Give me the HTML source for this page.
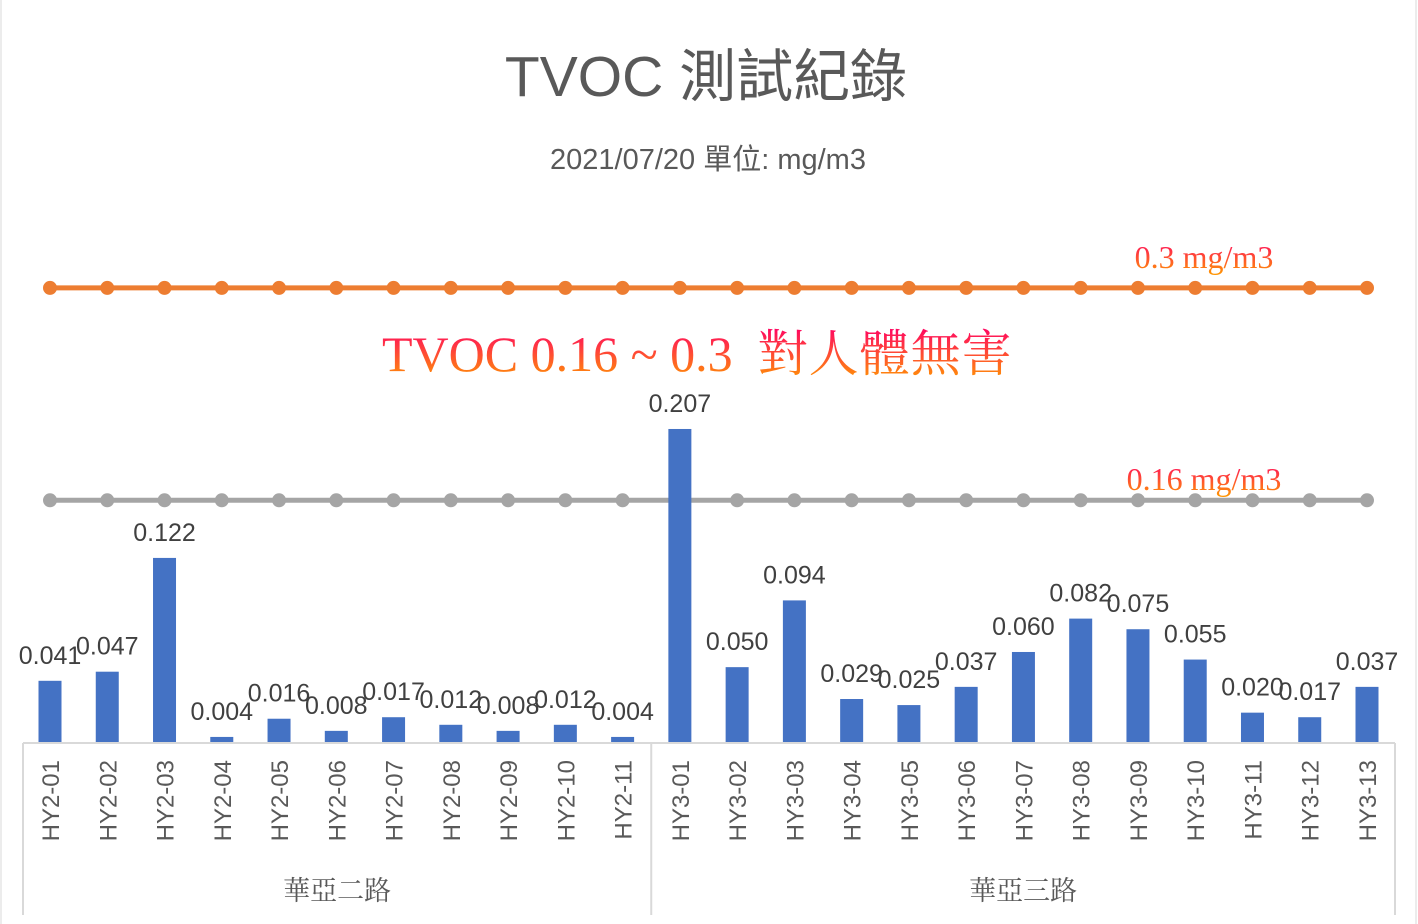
<!DOCTYPE html>
<html><head><meta charset="utf-8"><style>
body{margin:0;background:#fff;}
svg{display:block;font-family:"Liberation Sans","Noto Sans CJK TC",sans-serif;}
</style></head><body>
<svg id="c" width="1418" height="924">
<defs>
<linearGradient id="g1" x1="0" y1="0" x2="0" y2="1"><stop offset="0" stop-color="#ff0066"/><stop offset="1" stop-color="#ff9900"/></linearGradient>
</defs>
<rect x="1" y="-2" width="1415" height="930" fill="#fff" stroke="#d9d9d9"/>
<text x="706" y="96" text-anchor="middle" font-size="57" fill="#595959">TVOC 測試紀錄</text>
<text x="708" y="169" text-anchor="middle" font-size="29" fill="#595959">2021/07/20 單位: mg/m3</text>
<g id="lines"></g>
<g id="bars"></g>
<text x="1204" y="268" text-anchor="middle" font-size="32" fill="url(#g1)" font-family="Liberation Serif,'Noto Serif CJK SC',serif">0.3 mg/m3</text>
<text x="1204" y="490" text-anchor="middle" font-size="32" fill="url(#g1)" font-family="Liberation Serif,'Noto Serif CJK SC',serif">0.16 mg/m3</text>
<text x="382" y="371" font-size="50" fill="url(#g1)" font-family="Liberation Serif,'Noto Serif CJK SC',serif">TVOC 0.16 ~ 0.3 &#160;<tspan letter-spacing="1">對人體無害</tspan></text>
<g id="axis"></g>
</svg>
<script>
const categories=["HY2-01","HY2-02","HY2-03","HY2-04","HY2-05","HY2-06","HY2-07","HY2-08","HY2-09","HY2-10","HY2-11","HY3-01","HY3-02","HY3-03","HY3-04","HY3-05","HY3-06","HY3-07","HY3-08","HY3-09","HY3-10","HY3-11","HY3-12","HY3-13"];
const values=[0.041,0.047,0.122,0.004,0.016,0.008,0.017,0.012,0.008,0.012,0.004,0.207,0.050,0.094,0.029,0.025,0.037,0.060,0.082,0.075,0.055,0.020,0.017,0.037];
const limitHigh=0.3;
const limitLow=0.16;
const groups=["華亞二路","華亞三路"];
const groupSizes=[11,13];

const NS="http://www.w3.org/2000/svg";
const base=743, pxPerUnit=1517, x0=50, step=(1367-50)/23;
const xS=i=>x0+i*step;
const yS=v=>base-v*pxPerUnit;
function mk(t,a,p){const e=document.createElementNS(NS,t);for(const k in a)e.setAttribute(k,a[k]);p.appendChild(e);return e;}
const L=document.getElementById('lines'),B=document.getElementById('bars'),A=document.getElementById('axis');
[[limitLow,'#a5a5a5','limit-016'],[limitHigh,'#ed7d31','limit-03']].forEach(([v,col,nm])=>{
  const ln=mk('line',{x1:xS(0),x2:xS(categories.length-1),y1:yS(v),y2:yS(v),stroke:col,'stroke-width':5},L);
  
  
  categories.forEach((c,i)=>{const d=mk('circle',{cx:xS(i),cy:yS(v),r:7,fill:col},L);
    
    });
});
values.forEach((v,i)=>{
  const r=mk('rect',{x:xS(i)-11.5,y:yS(v),width:23,height:v*pxPerUnit,fill:'#4472c4'},B);
  
  
  const t=mk('text',{x:xS(i),y:yS(v)-17,'text-anchor':'middle','font-size':25,fill:'#404040'},B);
  t.textContent=v.toFixed(3);
  
  
});
const ax=mk('line',{x1:23,x2:1395,y1:base,y2:base,stroke:'#d9d9d9','stroke-width':2},A);


let idx=0,bx=[23];
groupSizes.forEach((n,g)=>{
  const end=idx+n; const xr=(g==groupSizes.length-1)?1395:(xS(end-1)+xS(end))/2;
  bx.push(xr);
  const t=mk('text',{x:(bx[g]+xr)/2,y:900,'text-anchor':'middle','font-size':27,fill:'#595959','font-family':"'Noto Serif CJK SC',serif"},A);
  t.textContent=groups[g];
  
  
  idx=end;
});
bx.forEach(x=>{const l=mk('line',{x1:x,x2:x,y1:base,y2:915,stroke:'#d9d9d9','stroke-width':2},A);
  
  });
categories.forEach((c,i)=>{
  const t=mk('text',{transform:`translate(${xS(i)+9},760) rotate(-90)`,'text-anchor':'end','font-size':24,fill:'#595959'},A);
  t.textContent=c;
  
  
});
</script>
</body></html>
